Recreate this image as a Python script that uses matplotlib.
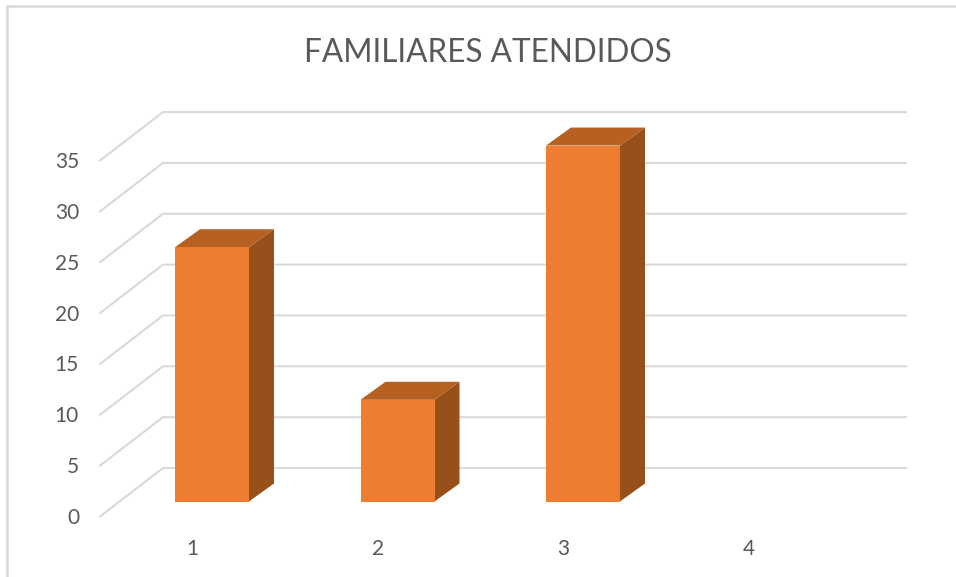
#!/usr/bin/env python3
"""Render the FAMILIARES ATENDIDOS pseudo-3D column chart."""

import matplotlib

matplotlib.use("Agg")

from matplotlib import pyplot as plt


CATEGORIES = [1, 2, 3, 4]
VALUES = [25, 10, 35, 0]
VALUE_TICKS = [0, 5, 10, 15, 20, 25, 30, 35]
TITLE = "FAMILIARES ATENDIDOS"

WIDTH = 956
HEIGHT = 577
DPI = 100

FRONT = "#ed7d31"
SIDE = "#98501b"
TOP = "#b66021"
GRID = "#d9d9d9"
LABEL = "#595959"

# Pixel size of one data unit on the plane of the bar fronts.
PX_PER_CAT = 185.5
PX_PER_VALUE = 10.17
CAT_1_PX = 212.0
BASE_PX = 501.5


def dx(px):
    return px / PX_PER_CAT


def dy(px):
    return px / PX_PER_VALUE


def main():
    plt.rcParams["font.family"] = ["Lato", "DejaVu Sans"]

    fig = plt.figure(figsize=(WIDTH / DPI, HEIGHT / DPI), dpi=DPI, facecolor="white")
    ax = fig.add_axes([0, 0, 1, 1])
    ax.set_xlim(1 - dx(CAT_1_PX), 1 + dx(WIDTH - CAT_1_PX))
    ax.set_ylim(-dy(HEIGHT - BASE_PX), dy(BASE_PX))
    ax.set_axis_off()

    # Floor and back wall: each tick runs from the front edge back, then across.
    front_x = 1 + dx(100 - CAT_1_PX)
    wall_x = 1 + dx(163 - CAT_1_PX)
    end_x = 1 + dx(906 - CAT_1_PX)
    for tick in VALUE_TICKS:
        ax.plot(
            [front_x, wall_x, end_x],
            [tick - dy(15), tick + dy(33.5), tick + dy(33.5)],
            color=GRID,
            linewidth=1.5,
            solid_joinstyle="miter",
            zorder=1,
        )
        ax.text(
            1 + dx(79 - CAT_1_PX),
            tick - dy(16.5),
            str(tick),
            color=LABEL,
            fontsize=15,
            ha="right",
            va="center",
        )

    half = dx(37)
    depth_x = dx(25)
    depth_y = dy(18)
    ax.bar(CATEGORIES, VALUES, width=2 * half, color=FRONT, linewidth=0, zorder=3)
    for cat, value in zip(CATEGORIES, VALUES):
        if value == 0:
            continue
        left = cat - half
        right = cat + half
        ax.fill(
            [right, right + depth_x, right + depth_x, right],
            [0, depth_y, value + depth_y, value],
            color=SIDE,
            linewidth=0,
            zorder=2,
        )
        ax.fill(
            [left, left + depth_x, right + depth_x, right],
            [value, value + depth_y, value + depth_y, value],
            color=TOP,
            linewidth=0,
            zorder=2,
        )

    for cat in CATEGORIES:
        ax.text(
            cat - dx(19.5),
            -dy(47.5),
            str(cat),
            color=LABEL,
            fontsize=15,
            ha="center",
            va="center",
        )

    ax.text(
        1 + dx(488 - CAT_1_PX),
        dy(BASE_PX - 53.5),
        TITLE,
        color=LABEL,
        fontsize=22.7,
        ha="center",
        va="center",
    )

    # Chart frame: only the top and left edges fall inside the crop.
    ax.plot(
        [1 + dx(7 - CAT_1_PX), 1 + dx(7 - CAT_1_PX), 1 + dx(WIDTH - CAT_1_PX)],
        [-dy(HEIGHT - BASE_PX), dy(BASE_PX - 6), dy(BASE_PX - 6)],
        color=GRID,
        linewidth=1.8,
        solid_joinstyle="miter",
        zorder=1,
    )

    fig.savefig("out.png", dpi=DPI, facecolor="white")
    plt.close(fig)


if __name__ == "__main__":
    main()
